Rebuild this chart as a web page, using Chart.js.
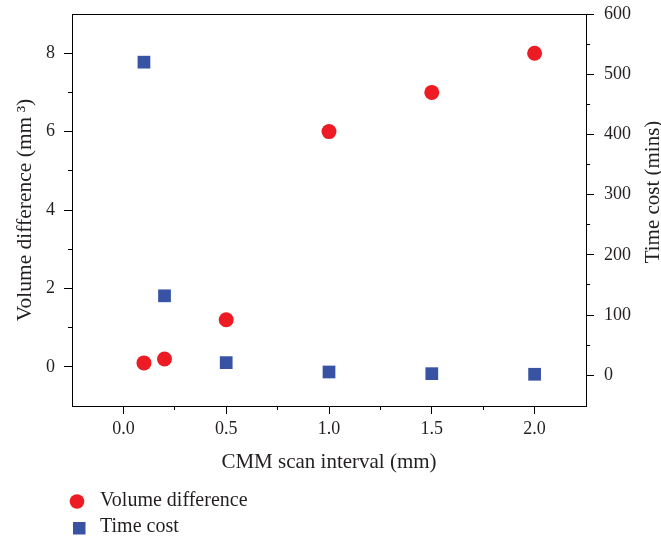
<!DOCTYPE html>
<html>
<head>
<meta charset="utf-8">
<script src="https://cdn.jsdelivr.net/npm/chart.js@4"></script>
<style>
  html, body { margin: 0; padding: 0; background: #fff; }
  #wrap { width: 661px; height: 542px; position: relative; }
</style>
</head>
<body>
<div id="wrap"><canvas id="c" width="661" height="542"></canvas></div>
<script>
// Measured series: scan interval (mm) vs. volume difference (mm³) and time cost (mins)
const scanInterval = [0.1, 0.2, 0.5, 1.0, 1.5, 2.0];
const volumeDifference = [0.1, 0.2, 1.2, 6.0, 7.0, 8.0];
const timeCost = [520, 132, 21, 5.5, 2.7, 1.7];

// Axis ticks
const xTicks = [0, 0.5, 1.0, 1.5, 2.0];
const xMinorTicks = [0.25, 0.75, 1.25, 1.75];
const volumeTicks = [0, 2, 4, 6, 8];
const volumeMinorTicks = [1, 3, 5, 7];
const timeTicks = [0, 100, 200, 300, 400, 500, 600];
const timeMinorTicks = [50, 150, 250, 350, 450, 550];

const timeAxisTitle = 'Time cost (mins)';

const RED = '#ed1c24';
const BLUE = '#3953a4';
const INK = '#231f20';
const SERIF = '"Liberation Serif", "DejaVu Serif", serif';

Chart.defaults.font.family = SERIF;
Chart.defaults.color = INK;

const toPoints = (xs, ys) => xs.map((x, i) => ({ x: x, y: ys[i] }));
const fixedTicks = values => scale => { scale.ticks = values.map(v => ({ value: v })); };
const fitBox = (w, h) => scale => {
  if (w !== null) scale.width = w;
  if (h !== null) scale.height = h;
  scale.paddingTop = 0;
  scale.paddingBottom = 0;
  scale.paddingLeft = 0;
  scale.paddingRight = 0;
};

// Closes the frame on top, adds short minor ticks, the right-hand title and the legend
const framePlugin = {
  id: 'frameAndLegend',
  afterDraw(chart) {
    const ctx = chart.ctx;
    const { left, right, top, bottom } = chart.chartArea;
    ctx.save();
    ctx.strokeStyle = '#000';
    ctx.lineWidth = 1;
    ctx.beginPath();
    const ty = Math.floor(top) + 0.5;
    ctx.moveTo(left, ty);
    ctx.lineTo(right, ty);

    const xs = chart.scales.x, yl = chart.scales.y, yr = chart.scales.y2;
    xMinorTicks.forEach(v => {
      const px = Math.floor(xs.getPixelForValue(v)) + 0.5;
      ctx.moveTo(px, bottom);
      ctx.lineTo(px, bottom + 4);
    });
    volumeMinorTicks.forEach(v => {
      const py = Math.floor(yl.getPixelForValue(v)) + 0.5;
      ctx.moveTo(left - 4, py);
      ctx.lineTo(left, py);
    });
    timeMinorTicks.forEach(v => {
      const py = Math.floor(yr.getPixelForValue(v)) + 0.5;
      ctx.moveTo(right, py);
      ctx.lineTo(right + 4, py);
    });
    ctx.stroke();

    // right axis title, reading upwards
    ctx.fillStyle = INK;
    ctx.font = '21px ' + SERIF;
    ctx.textAlign = 'center';
    ctx.textBaseline = 'middle';
    ctx.save();
    ctx.translate(653, 192);
    ctx.rotate(-Math.PI / 2);
    ctx.fillText(timeAxisTitle, 0, 0);
    ctx.restore();

    // legend
    const ds = chart.data.datasets;
    ctx.font = '20px ' + SERIF;
    ctx.textBaseline = 'middle';
    ctx.textAlign = 'left';
    ctx.fillStyle = ds[0].backgroundColor;
    ctx.beginPath();
    ctx.arc(77, 501.5, 7.3, 0, Math.PI * 2);
    ctx.fill();
    ctx.fillStyle = INK;
    ctx.fillText(ds[0].label, 100, 501);

    ctx.fillStyle = ds[1].backgroundColor;
    ctx.fillRect(73, 522, 12.5, 12.5);
    ctx.fillStyle = INK;
    ctx.fillText(ds[1].label, 100, 527);
    ctx.restore();
  }
};

new Chart(document.getElementById('c'), {
  type: 'scatter',
  data: {
    datasets: [
      {
        label: 'Volume difference',
        data: toPoints(scanInterval, volumeDifference),
        yAxisID: 'y',
        pointStyle: 'circle',
        pointRadius: 7.5,
        pointHoverRadius: 7.5,
        backgroundColor: RED,
        borderColor: RED,
        borderWidth: 0
      },
      {
        label: 'Time cost',
        data: toPoints(scanInterval, timeCost),
        yAxisID: 'y2',
        pointStyle: 'rect',
        pointRadius: 9,
        pointHoverRadius: 9,
        backgroundColor: BLUE,
        borderColor: BLUE,
        borderWidth: 0
      }
    ]
  },
  options: {
    responsive: false,
    animation: false,
    devicePixelRatio: 1,
    layout: { padding: { top: 14, bottom: 66, left: 0, right: 0 } },
    plugins: { legend: { display: false }, tooltip: { enabled: false } },
    scales: {
      x: {
        type: 'linear',
        position: 'bottom',
        min: -0.25,
        max: 2.25,
        afterBuildTicks: fixedTicks(xTicks),
        afterFit: fitBox(null, 70),
        ticks: { callback: v => Number(v).toFixed(1), font: { size: 18 }, padding: 4, maxRotation: 0, autoSkip: false, color: INK },
        grid: { drawOnChartArea: false, drawTicks: true, tickLength: 8, color: '#000' },
        border: { display: true, color: '#000', width: 1 },
        title: { display: true, text: 'CMM scan interval (mm)', font: { size: 21, lineHeight: 1.2 }, padding: { top: 0, bottom: 1 }, color: INK }
      },
      y: {
        type: 'linear',
        position: 'left',
        min: -1,
        max: 9,
        afterBuildTicks: fixedTicks(volumeTicks),
        afterFit: fitBox(72, null),
        ticks: { font: { size: 18 }, padding: 9, color: INK },
        grid: { drawOnChartArea: false, drawTicks: true, tickLength: 8, color: '#000' },
        border: { display: true, color: '#000', width: 1 },
        title: { display: true, text: 'Volume difference (mm\u2009³)', font: { size: 21.5, lineHeight: 1.2 }, padding: { top: 12, bottom: 0 }, color: INK }
      },
      y2: {
        type: 'linear',
        position: 'right',
        min: -51,
        max: 600,
        afterBuildTicks: fixedTicks(timeTicks),
        afterFit: fitBox(75, null),
        ticks: { font: { size: 18 }, padding: 10, color: INK },
        grid: { drawOnChartArea: false, drawTicks: true, tickLength: 8, color: '#000' },
        border: { display: true, color: '#000', width: 1 },
        title: { display: false }
      }
    }
  },
  plugins: [framePlugin]
});
</script>
</body>
</html>
